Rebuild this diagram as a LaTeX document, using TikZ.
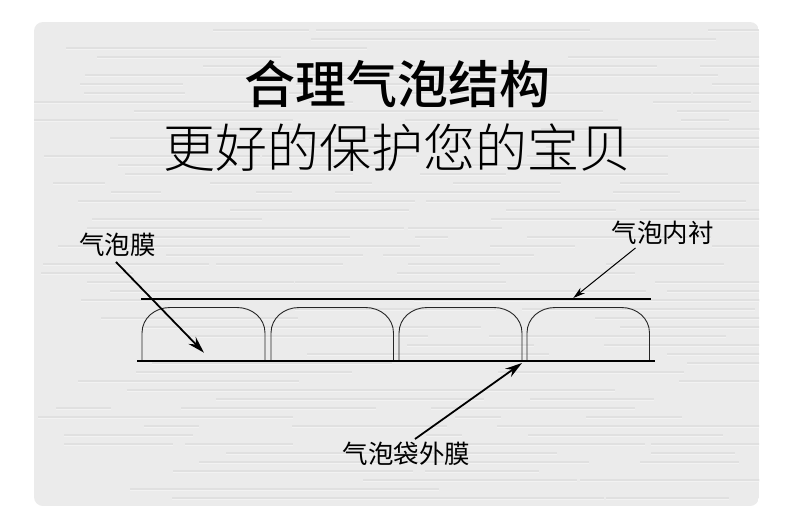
\documentclass[tikz,border=0pt]{standalone}
\usepackage{fontspec}
\usetikzlibrary{arrows.meta}
\setmainfont{Noto Sans CJK SC}
\newfontfamily\heavyfont{Noto Sans CJK SC Medium}
\newfontfamily\thinfont{Noto Sans CJK SC Light}
\definecolor{panelgray}{RGB}{235,235,235}
\definecolor{brickgray}{RGB}{224,224,224}
\definecolor{brickhigh}{RGB}{242,242,242}
\begin{document}
\begin{tikzpicture}[
   x=1pt,y=-1pt,
   bubble/.style={draw=black!85,line width=0.9pt},
   film/.style={draw=black,line width=1.7pt},
   lead/.style={draw=black,line width=1.8pt,-{Stealth[length=17pt,width=10pt]}},
   thinlead/.style={draw=black,line width=1pt,-{Stealth[length=12pt,width=7pt]}},
   label/.style={font=\fontsize{25.5}{26}\selectfont,text=black},
   every node/.style={inner sep=0pt}
 ]
  \useasboundingbox (0,0) rectangle (790,531);
  \fill[white] (0,0) rectangle (790,531);
  \begin{scope}
    \clip[rounded corners=9pt] (34,22) rectangle (759,506);
    \fill[panelgray] (34,22) rectangle (759,506);
    % wall texture
    \pgfmathsetseed{7}
    \foreach \y in {30,39,...,500}
      \foreach \n in {1,...,5}{
        \pgfmathsetmacro{\a}{34+random(0,680)}
        \pgfmathsetmacro{\b}{\a+random(30,240)}
        \draw[brickgray,line width=1.3pt] (\a,\y) -- (\b,\y);
        \draw[brickhigh,line width=0.8pt] (\a,\y+1.6) -- (\b,\y+1.6);
      }
  \end{scope}
  \node[font=\heavyfont\fontsize{51}{51}\selectfont] (title) at (397.5,84) {合理气泡结构};
  \node[font=\thinfont\fontsize{52}{52}\selectfont] (subtitle) at (397.5,148) {更好的保护您的宝贝};
  % bubbles
  \foreach \l/\r in {142/265,271/393.5,399/522,527/649.5}
    \draw[bubble] (\l,361) -- (\l,333)
      .. controls (\l,318) and (\l+13,307.5) .. (\l+28,307.5)
      -- (\r-28,307.5)
      .. controls (\r-13,307.5) and (\r,318) .. (\r,333) -- (\r,361);
  \coordinate (topleft) at (141,298.7);
  \coordinate (topright) at (651,298.7);
  \coordinate (botleft) at (137,361);
  \coordinate (botright) at (655,361);
  \draw[film] (topleft)--(topright);
  \draw[film] (botleft)--(botright);
  \node[label] (membrane) at (117.5,245) {气泡膜};
  \node[label] (lining) at (662.5,233) {气泡内衬};
  \node[label] (outer) at (406.5,454) {气泡袋外膜};
  \coordinate (membranetip) at (204,352.7);
  \coordinate (liningtip) at (573.3,298);
  \coordinate (outertip) at (522,363);
  \draw[lead] ([xshift=-1.5pt,yshift=-5pt]membrane.south) -- (membranetip);
  \draw[thinlead] ([xshift=-27pt,yshift=-3pt]lining.south) -- (liningtip);
  \draw[lead] ([xshift=8.5pt,yshift=3pt]outer.north) -- (outertip);
\end{tikzpicture}
\end{document}
